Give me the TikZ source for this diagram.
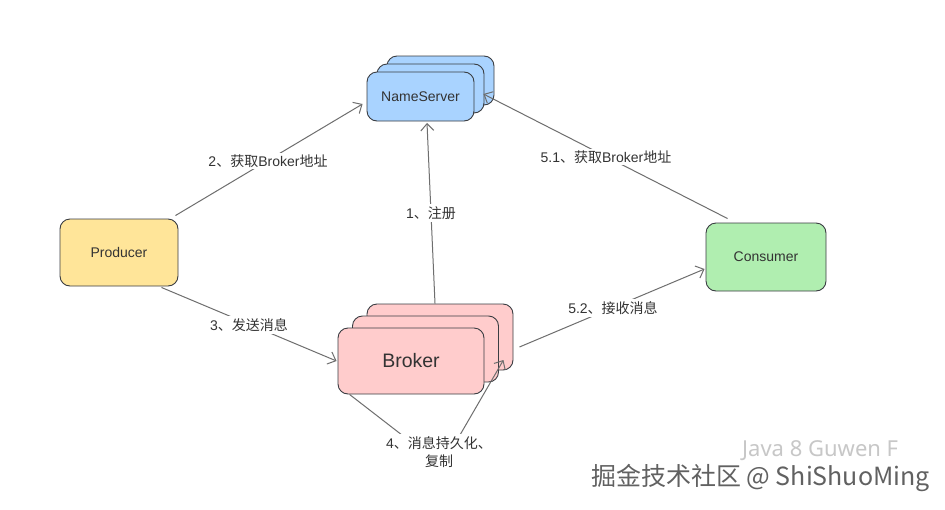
\documentclass[tikz,border=0pt]{standalone}
\usepackage{fontspec}
\setmainfont{Liberation Sans}
\newfontfamily\cjk{Noto Sans CJK SC}
\newfontfamily\wmfont{Noto Sans}
\usetikzlibrary{arrows.meta,calc}
\definecolor{nsfill}{HTML}{A9D3FF}
\definecolor{prodfill}{HTML}{FFE599}
\definecolor{consfill}{HTML}{B0EEB0}
\definecolor{brfill}{HTML}{FFCCCC}
\definecolor{boxline}{HTML}{3A3D42}
\definecolor{linecol}{HTML}{6E6E6E}
\definecolor{textcol}{HTML}{333333}
\begin{document}
\begin{tikzpicture}[x=1pt,y=-1pt,
  box/.style={draw=boxline, line width=0.9pt, rounded corners=10pt, inner sep=0pt,
    font=\fontsize{14}{16}\selectfont, text=textcol},
  conn/.style={draw=linecol, line width=1pt,
    -{Straight Barb[length=7pt,width=13pt,line width=1pt]}},
  lbl/.style={fill=white, inner sep=2pt, font=\fontsize{14}{18}\selectfont, text=textcol, align=center}]
\fill[white] (0,0) rectangle (945,509);
\useasboundingbox (0,0) rectangle (945,509);

% NameServer stack
\node[box, fill=nsfill, minimum width=107pt, minimum height=49pt] (ns3) at (440.5,80.5) {};
\node[box, fill=nsfill, minimum width=107pt, minimum height=49pt] (ns2) at (430.5,88.5) {};
\node[box, fill=nsfill, minimum width=107pt, minimum height=49pt] (ns1) at (420.5,96.5) {NameServer};

% Broker stack
\node[box, fill=brfill, minimum width=146pt, minimum height=66pt] (br3) at (440,337) {};
\node[box, fill=brfill, minimum width=146pt, minimum height=66pt] (br2) at (425.5,349) {};
\node[box, fill=brfill, minimum width=146pt, minimum height=66pt, font=\fontsize{19.5}{22}\selectfont] (br1) at (411,361) {Broker};

% Producer / Consumer
\node[box, fill=prodfill, minimum width=118pt, minimum height=67pt] (prod) at (119,252.5) {Producer};
\node[box, fill=consfill, minimum width=120pt, minimum height=68pt] (cons) at (766,257) {Consumer};

\coordinate (p4) at (442,466);

% connectors
\draw[conn] ($(prod.north east)+(-3,-3)$) -- ($(ns1.west)+(-4,7.5)$);
\draw[conn] ($(br3.north)+(-5,0)$) -- ($(ns1.south)+(6.5,1.5)$);
\draw[conn] ($(cons.north west)+(22,-4)$) -- ($(ns2.east)+(-1,5.5)$);
\draw[conn] ($(prod.south east)+(-17,1)$) -- ($(br1.west)+(-1,0)$);
\draw[conn] ($(br3.east)+(6,10)$) -- ($(cons.west)+(-1,12)$);
\draw[conn] ($(br1.south west)+(12,0)$) -- (p4) -- ($(br2.east)+(4.5,11)$);

% labels
\node[lbl] (l2) at (268,161) {2{\cjk 、获取}Broker{\cjk 地址}};
\node[lbl] (l1) at (431,213) {1{\cjk 、注册}};
\node[lbl] (l51) at (606,157) {5.1{\cjk 、获取}Broker{\cjk 地址}};
\node[lbl] (l3) at (249,325) {3{\cjk 、发送消息}};
\node[lbl] (l52) at (613,308) {5.2{\cjk 、接收消息}};
\node[lbl] (l4) at (439,452) {4{\cjk 、消息持久化、}\\{\cjk 复制}};

% watermark
\node[anchor=west, inner sep=0pt, text=black!22, font=\wmfont\fontsize{22}{24}\selectfont] (wm2) at (742,451) {Java 8 Guwen F};
\node[anchor=east, inner sep=0pt, text=black!62, font=\cjk\fontsize{25}{28}\selectfont] (wm1) at (930,478) {掘金技术社区 @ ShiShuoMing};
\end{tikzpicture}
\end{document}
